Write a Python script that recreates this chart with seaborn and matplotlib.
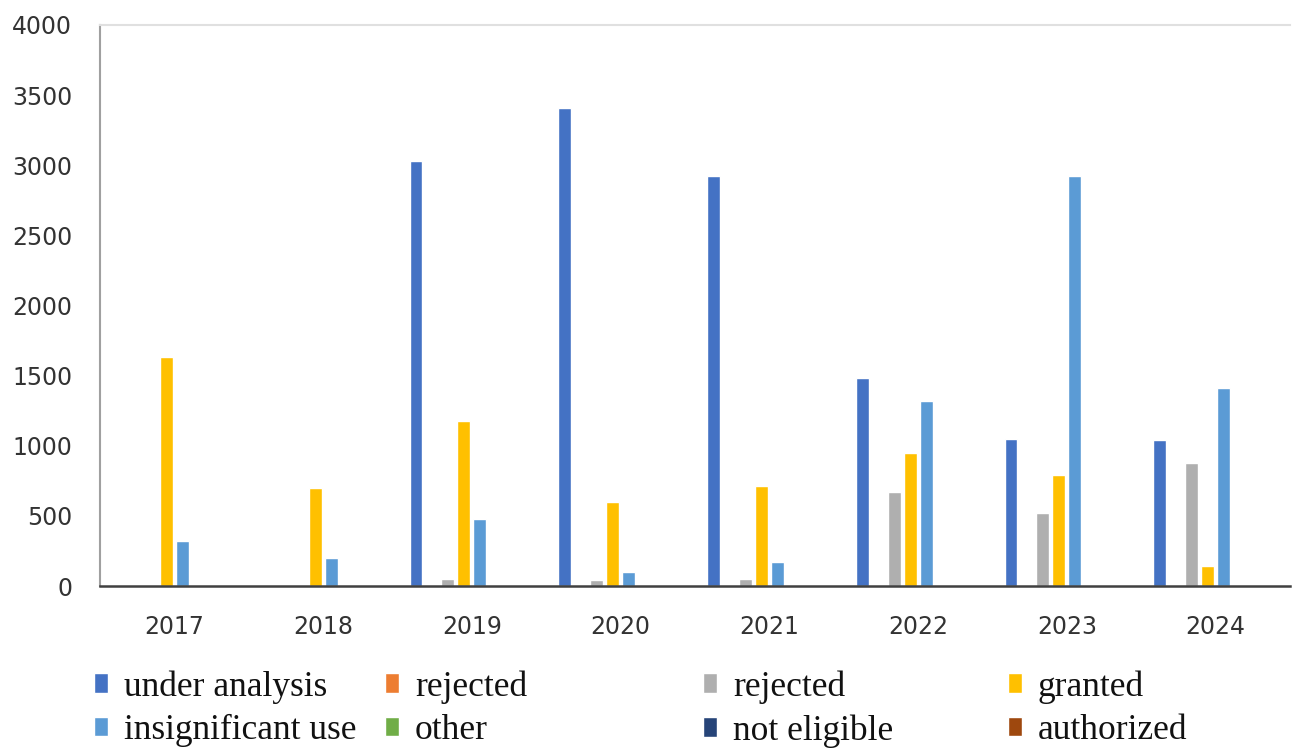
import numpy as np
import pandas as pd
import matplotlib
matplotlib.use("Agg")
import matplotlib.pyplot as plt
import seaborn as sns

years = ["2017", "2018", "2019", "2020", "2021", "2022", "2023", "2024"]

under_analysis = [0, 0, 3030, 3410, 2920, 1480, 1050, 1040]
rejected_a = [0, 0, 0, 0, 0, 0, 0, 0]
rejected_b = [0, 0, 50, 45, 50, 670, 520, 880]
granted = [1630, 700, 1180, 600, 710, 950, 790, 140]
insignificant_use = [320, 200, 480, 100, 170, 1320, 2920, 1410]
other = [0, 0, 0, 0, 0, 0, 0, 0]
not_eligible = [0, 0, 0, 0, 0, 0, 0, 0]
authorized = [0, 0, 0, 0, 0, 0, 0, 0]

series_keys = ["ua", "rj1", "rj2", "gr", "iu", "ot", "ne", "au"]
series_labels = ["under analysis", "rejected", "rejected", "granted",
                 "insignificant use", "other", "not eligible", "authorized"]
series_values = [under_analysis, rejected_a, rejected_b, granted,
                 insignificant_use, other, not_eligible, authorized]
series_colors = ["#4472C4", "#ED7D31", "#AFAFAF", "#FFC000",
                 "#5B9BD5", "#70AD47", "#264478", "#9E480E"]

rows = []
for key, vals in zip(series_keys, series_values):
    for y, v in zip(years, vals):
        rows.append({"year": y, "status": key, "count": v})
df = pd.DataFrame(rows)

sns.set_theme(style="white")
plt.rcParams["font.family"] = ["DejaVu Sans"]

fig = plt.figure(figsize=(12.96, 7.48), dpi=100)
ax = fig.add_axes([100 / 1296, 1 - 586 / 748, 1190 / 1296, 561 / 748])

sns.barplot(data=df, x="year", y="count", hue="status", order=years,
            hue_order=series_keys, palette=series_colors, width=0.86,
            gap=0.2, saturation=1, errorbar=None, legend=False, ax=ax)

ax.set_ylim(0, 4000)
ax.set_xlim(-0.5, len(years) - 0.5)
ax.set_yticks(np.arange(0, 4001, 500))
ax.set_xlabel("")
ax.set_ylabel("")
ax.tick_params(axis="y", length=0, pad=20, labelsize=17, labelcolor="#333333")
ax.tick_params(axis="x", length=0, pad=21, labelsize=17, labelcolor="#333333")

ax.spines["right"].set_visible(False)
ax.spines["top"].set_color("#E0E0E0")
ax.spines["top"].set_linewidth(1.5)
ax.spines["left"].set_color("#A0A0A0")
ax.spines["left"].set_linewidth(1.5)
ax.spines["bottom"].set_color("#404040")
ax.spines["bottom"].set_linewidth(1.8)

# legend: four columns of two entries, taken from the bar containers
handles = [c.patches[0] for c in ax.containers]
columns = [(0, 4), (1, 5), (2, 6), (3, 7)]
col_x = [94, 385, 703, 1008]
for (i, j), x in zip(columns, col_x):
    fig.legend([handles[i], handles[j]],
               [series_labels[i], series_labels[j]],
               loc="upper left", bbox_to_anchor=(x / 1296, 1 - 670 / 748),
               frameon=False, borderpad=0, borderaxespad=0,
               handlelength=0.4, handleheight=0.47, handletextpad=0.44,
               labelspacing=0.3, labelcolor="#111111",
               prop={"family": "Liberation Serif", "size": 25.5})

fig.savefig("out.png", dpi=100, facecolor="white")
